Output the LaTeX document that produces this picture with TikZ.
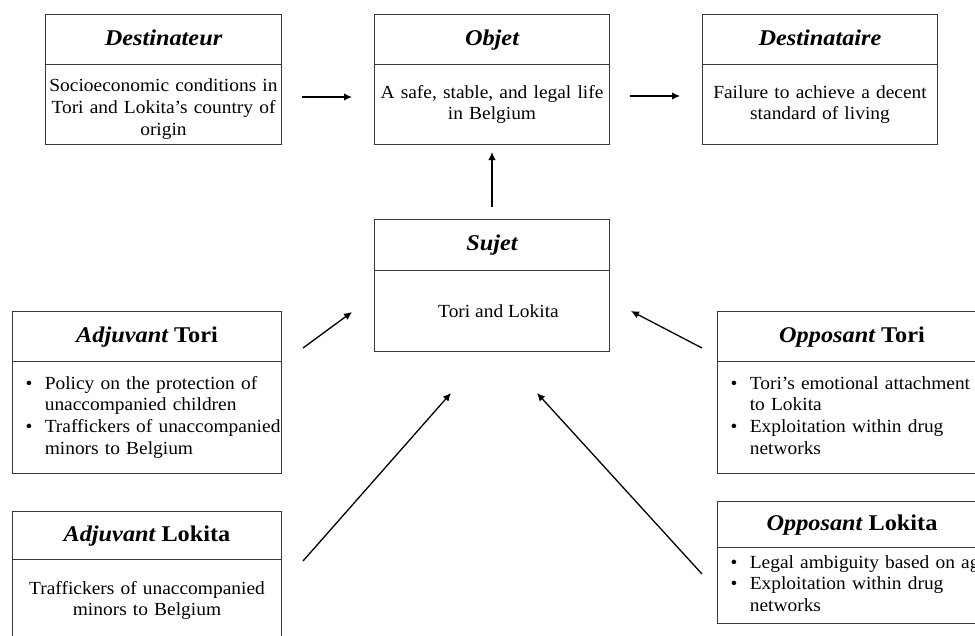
\documentclass[tikz,border=0pt]{standalone}
\usepackage{fontspec}
\setmainfont[FakeStretch=1.05]{Liberation Serif}
\newfontfamily\headfont[FakeStretch=1.08]{Liberation Serif}
\usetikzlibrary{arrows.meta}
\begin{document}
\begin{tikzpicture}[x=1pt,y=-1pt,
  box/.style={draw=black!78, line width=1pt, inner sep=0pt, anchor=north west},
  head/.style={box, font=\headfont\fontsize{22.5}{26}\selectfont\bfseries, text height=15.5pt, text depth=4.5pt},
  body/.style={box, font=\fontsize{18.5}{21.8}\selectfont},
  cbody/.style={body, align=center},
  lbody/.style={body, text width=243pt, inner xsep=13pt, align=left},
  arr/.style={-{Latex[length=8pt,width=7.5pt]}, line width=1.3pt, black}]
\useasboundingbox (0,0) rectangle (975,635);
\clip (0,0) rectangle (975,635);
% top row
\node[head, minimum width=236pt, minimum height=50pt] (desth) at (45,14) {\itshape Destinateur};
\node[cbody, text width=236pt, minimum height=80pt] (destb) at (45,64) {\rule{0pt}{22pt}Socioeconomic conditions in\\Tori and Lokita’s country of\\origin};
\node[head, minimum width=235pt, minimum height=50pt] (objh) at (374,14) {\itshape Objet};
\node[cbody, text width=235pt, minimum height=80pt] (objb) at (374,64) {A safe, stable, and legal life\\in Belgium};
\node[head, minimum width=235pt, minimum height=50pt] (desah) at (702,14) {\itshape Destinataire};
\node[cbody, text width=235pt, minimum height=80pt] (desab) at (702,64) {Failure to achieve a decent\\standard of living};
% subject
\node[head, minimum width=235pt, minimum height=51pt] (sujh) at (374,219) {\itshape Sujet};
\node[body, minimum width=235pt, minimum height=81pt] (sujb) at (374,270) {\hspace*{13pt}Tori and Lokita};
% helpers
\node[head, minimum width=269pt, minimum height=50pt] (adjth) at (12,311) {{\itshape Adjuvant} Tori};
\node[lbody, minimum height=112pt] (adjtb) at (12,361) {\begin{tabular}{@{}l@{\hspace{12.5pt}}l@{}}
•&Policy on the protection of\\
&unaccompanied children\\
•&Traffickers of unaccompanied\\
&minors to Belgium\end{tabular}};
\node[head, minimum width=269pt, minimum height=48pt] (adjlh) at (12,511) {{\itshape Adjuvant} Lokita};
\node[cbody, text width=269pt, minimum height=82pt] (adjlb) at (12,559) {Traffickers of unaccompanied\\minors to Belgium};
% opponents
\node[head, minimum width=269pt, minimum height=50pt] (oppth) at (717,311) {{\itshape Opposant} Tori};
\node[lbody, minimum height=112pt] (opptb) at (717,361) {\begin{tabular}{@{}l@{\hspace{12.5pt}}l@{}}
•&Tori’s emotional attachment\\
&to Lokita\\
•&Exploitation within drug\\
&networks\end{tabular}};
\node[head, minimum width=269pt, minimum height=46pt] (opplh) at (717,501) {{\itshape Opposant} Lokita};
\node[lbody, minimum height=76pt] (opplb) at (717,547) {\begin{tabular}{@{}l@{\hspace{12.5pt}}l@{}}
•&Legal ambiguity based on age\\
•&Exploitation within drug\\
&networks\end{tabular}};
% arrow end points
\coordinate (a1s) at (302,97);  \coordinate (a1e) at (352,97);
\coordinate (a2s) at (630,96);  \coordinate (a2e) at (680,96);
\coordinate (a3s) at (492,207); \coordinate (a3e) at (492,152);
\coordinate (a4s) at (303,348); \coordinate (a4e) at (352,312);
\coordinate (a5s) at (702,348); \coordinate (a5e) at (631,311);
\coordinate (a6s) at (303,561); \coordinate (a6e) at (451,393);
\coordinate (a7s) at (702,574); \coordinate (a7e) at (537,393);
\draw[arr] (a1s) -- (a1e);
\draw[arr] (a2s) -- (a2e);
\draw[arr] (a3s) -- (a3e);
\draw[arr] (a4s) -- (a4e);
\draw[arr] (a5s) -- (a5e);
\draw[arr] (a6s) -- (a6e);
\draw[arr] (a7s) -- (a7e);
\end{tikzpicture}
\end{document}
